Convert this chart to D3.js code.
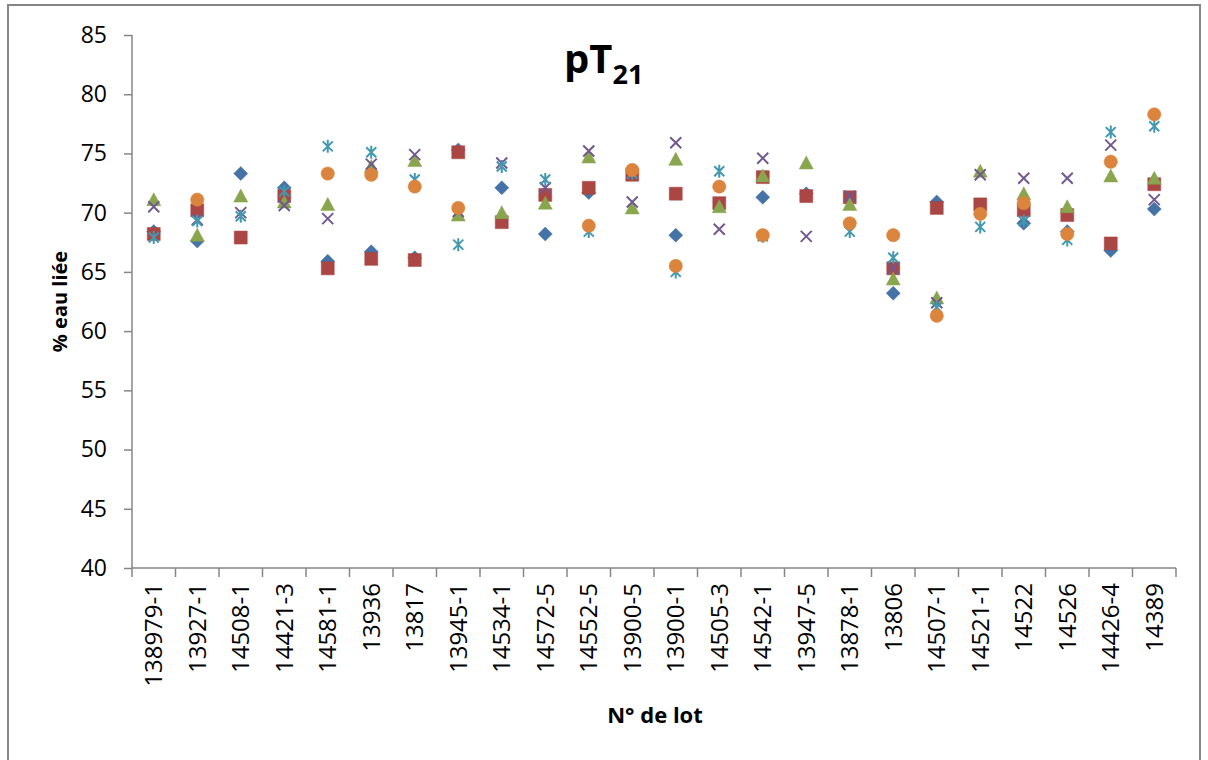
<!DOCTYPE html>
<html>
<head>
<meta charset="utf-8">
<script src="https://cdn.jsdelivr.net/npm/d3@7"></script>
<style>
  body { margin: 0; background: #fff; }
  svg { display: block; font-family: "Open Sans", sans-serif; }
</style>
</head>
<body>
<svg width="1208" height="760"></svg>
<script>
const categories = ['138979-1', '13927-1', '14508-1', '14421-3', '14581-1', '13936', '13817', '13945-1',
  '14534-1', '14572-5', '14552-5', '13900-5', '13900-1', '14505-3', '14542-1', '13947-5', '13878-1',
  '13806', '14507-1', '14521-1', '14522', '14526', '14426-4', '14389']

const blueDiamond = [68.4, 67.6, 73.3, 72.1, 65.9, 66.7, 66.2, 75.3, 72.1, 68.2, 71.7, null,
  68.1, null, 71.3, 71.6, null, 63.2, 70.9, null, 69.1, 68.4, 66.8, 70.3]
const redSquare = [68.2, 70.2, 67.9, 71.4, 65.3, 66.1, 66.0, 75.1, 69.2, 71.5, 72.1, 73.2,
  71.6, 70.8, 73.0, 71.4, 71.3, 65.3, 70.4, 70.7, 70.2, 69.8, 67.4, 72.4]
const greenTriangle = [71.1, 68.1, 71.4, 70.9, 70.7, 73.9, 74.4, 69.8, 70.0, 70.8, 74.7, 70.4,
  74.5, 70.5, 73.1, 74.2, 70.7, 64.4, 62.8, 73.5, 71.6, 70.5, 73.1, 72.9]
const purpleCross = [70.5, 69.4, 70.0, 70.6, 69.5, 74.1, 74.9, 70.1, 74.2, 72.1, 75.2, 70.9,
  75.9, 68.6, 74.6, 68.0, 71.4, 65.3, 62.4, 73.2, 72.9, 72.9, 75.7, 71.1]
const cyanStar = [67.9, 69.3, 69.7, 71.8, 75.6, 75.1, 72.8, 67.3, 73.9, 72.8, 68.4, 73.3,
  65.0, 73.5, 68.0, null, 68.4, 66.2, 62.0, 68.8, 69.3, 67.7, 76.8, 77.3]
const orangeCircle = [null, 71.1, null, null, 73.3, 73.2, 72.2, 70.4, null, null, 68.9, 73.6,
  65.5, 72.2, 68.1, null, 69.1, 68.1, 61.3, 69.9, 70.8, 68.2, 74.3, 78.3]

const yTicks = [40, 45, 50, 55, 60, 65, 70, 75, 80, 85]

const series = [
  { values: blueDiamond, color: '#4572A7', shape: 'diamond' },
  { values: redSquare, color: '#AA4643', shape: 'square' },
  { values: greenTriangle, color: '#89A54E', shape: 'triangle' },
  { values: purpleCross, color: '#71588F', shape: 'cross' },
  { values: cyanStar, color: '#4198AF', shape: 'star' },
  { values: orangeCircle, color: '#DB843D', shape: 'circle' }
]

const svg = d3.select('svg')
const axisColor = '#868686'

// outer chart border
svg.append('rect')
  .attr('x', 8).attr('y', 5)
  .attr('width', 1192).attr('height', 770)
  .attr('fill', 'none')
  .attr('stroke', axisColor)
  .attr('stroke-width', 2)

const plotLeft = 132, plotRight = 1176, plotTop = 35, plotBottom = 568

const x = d3.scaleBand().domain(categories).range([plotLeft, plotRight]).padding(0)
const y = d3.scaleLinear().domain([40, 85]).range([plotBottom, plotTop])

// y axis
const yAxis = svg.append('g')
  .attr('transform', `translate(${plotLeft},0)`)
  .call(d3.axisLeft(y).tickValues(yTicks).tickSize(8).tickPadding(17))
yAxis.select('.domain').remove()
yAxis.append('line')
  .attr('y1', plotTop).attr('y2', plotBottom)
  .attr('stroke', axisColor).attr('stroke-width', 1.5)
yAxis.selectAll('.tick line').attr('stroke', axisColor).attr('stroke-width', 1.5)
yAxis.selectAll('.tick text')
  .attr('fill', '#000')
  .style('font-size', '23px')
  .style('font-family', '"Open Sans", sans-serif')

// x axis
const xAxis = svg.append('g')
  .attr('transform', `translate(0,${plotBottom})`)
  .call(d3.axisBottom(x).tickSize(0))
xAxis.select('.domain').remove()
xAxis.append('line')
  .attr('x1', plotLeft).attr('x2', plotRight)
  .attr('stroke', axisColor).attr('stroke-width', 1.5)
xAxis.selectAll('.edge')
  .data(categories.map(c => x(c)).concat([plotRight]))
  .join('line')
  .attr('x1', d => d).attr('x2', d => d)
  .attr('y1', 0).attr('y2', 9)
  .attr('stroke', axisColor).attr('stroke-width', 1.5)
xAxis.selectAll('.tick text')
  .attr('transform', 'rotate(-90)')
  .attr('x', -15).attr('y', 0).attr('dy', '0.36em')
  .attr('fill', '#000')
  .style('text-anchor', 'end')
  .style('font-size', '24px')
  .style('font-family', '"Open Sans", sans-serif')

// markers
const shapes = {
  diamond: 'M0,-7L7,0L0,7L-7,0Z',
  square: 'M-6.5,-6.5H6.5V6.5H-6.5Z',
  triangle: 'M0,-7L7,6H-7Z',
  circle: d3.symbol(d3.symbolCircle, 140)(),
  cross: 'M-5.5,-5.5L5.5,5.5M5.5,-5.5L-5.5,5.5',
  star: 'M-5,-5L5,5M5,-5L-5,5M0,-6.5V6.5'
}

series.forEach(s => {
  const stroked = s.shape === 'cross' || s.shape === 'star'
  svg.append('g')
    .selectAll('path')
    .data(categories.map((c, i) => ({ c, v: s.values[i] })).filter(d => d.v != null))
    .join('path')
    .attr('transform', d => `translate(${x(d.c) + x.bandwidth() / 2},${y(d.v)})`)
    .attr('d', shapes[s.shape])
    .attr('fill', stroked ? 'none' : s.color)
    .attr('stroke', s.color)
    .attr('stroke-width', stroked ? 2 : 0.5)
})

// title
svg.append('text')
  .attr('x', 564).attr('y', 73)
  .style('font-weight', 'bold')
  .style('font-size', '40px')
  .text('pT')
  .append('tspan')
  .attr('dy', 11)
  .style('font-size', '27px')
  .text('21')

// axis titles
svg.append('text')
  .attr('transform', `translate(67,${(plotTop + plotBottom) / 2}) rotate(-90)`)
  .attr('text-anchor', 'middle')
  .style('font-weight', 'bold')
  .style('font-size', '20px')
  .text('% eau liée')

svg.append('text')
  .attr('x', 655).attr('y', 723)
  .attr('text-anchor', 'middle')
  .style('font-weight', 'bold')
  .style('font-size', '22px')
  .text('N° de lot')
</script>
</body>
</html>
